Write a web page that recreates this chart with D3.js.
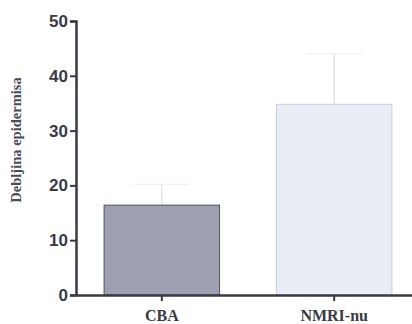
<!DOCTYPE html>
<html>
<head>
<meta charset="utf-8">
<script src="https://cdn.jsdelivr.net/npm/d3@7"></script>
<style>
  body { margin: 0; background: #fff; }
  svg { display: block; }
</style>
</head>
<body>
<div id="chart"></div>
<script>
// data
const groups = ["CBA", "NMRI-nu"];
const means = [16.4, 34.8];
const errors = [3.8, 9.2];
const yTicks = [0, 10, 20, 30, 40, 50];

const W = 412, H = 324;
const margin = { top: 21, right: 0, bottom: 29, left: 76 };
const width = W - margin.left - margin.right,
    height = H - margin.top - margin.bottom;

const svg = d3.select("#chart").append("svg")
    .attr("width", W)
    .attr("height", H);

const g = svg.append("g")
    .attr("transform", `translate(${margin.left},${margin.top})`);

const x = d3.scaleBand().domain(groups).range([0, 344]).paddingInner(0.33).paddingOuter(0.163);
const y = d3.scaleLinear().domain([0, 50]).range([height, 0]);

const fills = ["#9ca0b0", "#e8edf6"];
const strokes = ["#50525c", "#c8ccd6"];

// error bars (very faint in the scan)
const eb = g.selectAll(".err").data(groups).enter().append("g").attr("class", "err");
eb.append("line")
    .attr("x1", d => x(d) + x.bandwidth() / 2)
    .attr("x2", d => x(d) + x.bandwidth() / 2)
    .attr("y1", (d, i) => y(means[i]))
    .attr("y2", (d, i) => y(means[i] + errors[i]))
    .attr("stroke", "#e4e5ea")
    .attr("stroke-width", 1.5);
eb.append("line")
    .attr("x1", d => x(d) + x.bandwidth() / 2 - 28)
    .attr("x2", d => x(d) + x.bandwidth() / 2 + 28)
    .attr("y1", (d, i) => y(means[i] + errors[i]))
    .attr("y2", (d, i) => y(means[i] + errors[i]))
    .attr("stroke", "#f0f1f4")
    .attr("stroke-width", 1.2);

// bars
g.selectAll(".bar").data(groups).enter().append("rect")
    .attr("class", "bar")
    .attr("x", d => x(d))
    .attr("y", (d, i) => y(means[i]))
    .attr("width", x.bandwidth())
    .attr("height", (d, i) => height - y(means[i]))
    .attr("fill", (d, i) => fills[i])
    .attr("stroke", (d, i) => strokes[i])
    .attr("stroke-width", 1);

// y axis
const yAxis = g.append("g")
    .call(d3.axisLeft(y).tickValues(yTicks).tickSize(6).tickPadding(2));
yAxis.select(".domain").attr("stroke", "#3a3a44").attr("stroke-width", 2.5);
yAxis.selectAll(".tick line").attr("stroke", "#3a3a44").attr("stroke-width", 2);
yAxis.selectAll(".tick text")
    .style("font-family", "Liberation Sans, Arial, sans-serif")
    .style("font-weight", "bold")
    .style("font-size", "17px")
    .attr("fill", "#3a3a44");

// x axis
const xAxis = g.append("g")
    .attr("transform", `translate(0,${height})`)
    .call(d3.axisBottom(x).tickSize(6).tickPadding(9).tickSizeOuter(0));
xAxis.select(".domain").attr("stroke", "#3a3a44").attr("stroke-width", 2.5);
xAxis.selectAll(".tick line").attr("stroke", "#3a3a44").attr("stroke-width", 2);
xAxis.selectAll(".tick text")
    .style("font-family", "Liberation Serif, Times New Roman, serif")
    .style("font-weight", "bold")
    .style("font-size", "16px")
    .attr("fill", "#3a3a44");

// y axis title
svg.append("text")
    .attr("transform", `translate(21,140) rotate(-90)`)
    .attr("text-anchor", "middle")
    .style("font-family", "Liberation Serif, Times New Roman, serif")
    .style("font-weight", "bold")
    .style("font-size", "14.5px")
    .attr("fill", "#4a4a58")
    .text("Debljina epidermisa");
</script>
</body>
</html>
